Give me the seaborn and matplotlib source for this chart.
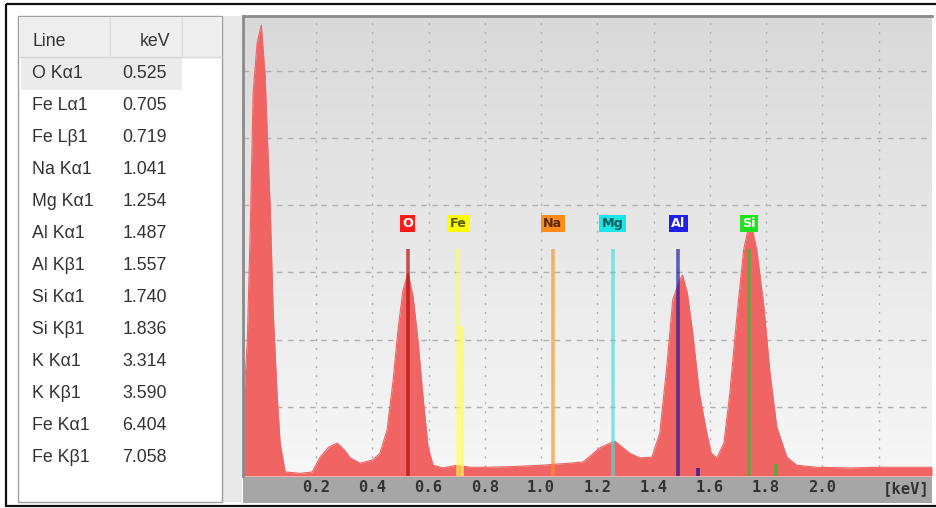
import numpy as np
import matplotlib
matplotlib.use("Agg")
import matplotlib.pyplot as plt
import matplotlib.patches as mpatches
from matplotlib.colors import LinearSegmentedColormap
import seaborn as sns

# table of identified lines
line_names = ["O Kα1", "Fe Lα1", "Fe Lβ1", "Na Kα1", "Mg Kα1", "Al Kα1", "Al Kβ1",
              "Si Kα1", "Si Kβ1", "K Kα1", "K Kβ1", "Fe Kα1", "Fe Kβ1"]
line_kev = ["0.525", "0.705", "0.719", "1.041", "1.254", "1.487", "1.557",
            "1.740", "1.836", "3.314", "3.590", "6.404", "7.058"]

# spectrum (keV, counts)
energy = [-0.058, -0.045, -0.034, -0.024, -0.010, 0.005, 0.019, 0.026, 0.037, 0.047,
          0.061, 0.072, 0.090, 0.143, 0.186, 0.214, 0.245, 0.275, 0.300, 0.321,
          0.356, 0.402, 0.427, 0.452, 0.474, 0.491, 0.509, 0.527, 0.545, 0.562,
          0.580, 0.598, 0.616, 0.651, 0.700, 0.750, 0.800, 0.900, 1.000, 1.100,
          1.150, 1.209, 1.262, 1.315, 1.351, 1.394, 1.422, 1.447, 1.468, 1.493,
          1.503, 1.520, 1.539, 1.563, 1.589, 1.605, 1.625, 1.650, 1.671, 1.696,
          1.720, 1.738, 1.749, 1.767, 1.792, 1.814, 1.838, 1.874, 1.909, 1.980,
          2.100, 2.200, 2.300, 2.390]
counts = [1050, 1950, 3680, 5670, 6410, 6680, 5900, 5070, 3930, 2440,
          1200, 460, 30, 10, 30, 250, 400, 460, 360, 240,
          160, 210, 310, 650, 1400, 2140, 2740, 2990, 2630, 1990,
          1150, 400, 130, 90, 130, 100, 100, 110, 130, 160,
          180, 390, 490, 310, 240, 250, 610, 1600, 2590, 2890,
          2960, 2690, 2100, 1200, 610, 310, 240, 460, 1200, 2340,
          3330, 3680, 3680, 3330, 2490, 1500, 700, 250, 130, 100,
          90, 100, 100, 100]

# element markers
elements = ["O", "Fe", "Na", "Mg", "Al", "Si"]
element_kev = [0.525, 0.705, 1.041, 1.254, 1.487, 1.740]
element_color = ["#b00000", "#ffff50", "#ff9020", "#40e0e0", "#1010a0", "#30c030"]
box_color = ["#ff1a1a", "#ffff00", "#ff8c1a", "#1ae6e6", "#2020e8", "#20e020"]
box_text = ["white", "#5a5a00", "#5a2a00", "#005a5a", "white", "white"]
marker_top = 3350
label_y = 3730
# secondary lines (keV, height, colour index)
extra_kev = [0.719, 1.557, 1.836]
extra_height = [2200, 90, 150]
extra_elem = [1, 4, 5]

xticks = [0.2, 0.4, 0.6, 0.8, 1.0, 1.2, 1.4, 1.6, 1.8, 2.0, 2.2]
xtick_labels = ["0.2", "0.4", "0.6", "0.8", "1.0", "1.2", "1.4", "1.6", "1.8", "2.0", ""]
yticks = [1000, 2000, 3000, 4000, 5000, 6000]

sns.set_style("white")
plt.rcParams["font.family"] = ["Liberation Sans", "DejaVu Sans"]

W, H = 937, 508
fig = plt.figure(figsize=(W / 100, H / 100), dpi=100)
fig.patch.set_facecolor("white")

# background / table panel in pixel coordinates
bg = fig.add_axes([0, 0, 1, 1], zorder=-1)
bg.set_xlim(0, W)
bg.set_ylim(H, 0)
bg.axis("off")
bg.add_patch(mpatches.Rectangle((222, 16), 20, 486, fc="#e9e9e9", ec="none"))
bg.add_patch(mpatches.Rectangle((18, 16), 204, 486, fc="white", ec="#a0a0a0", lw=1))
bg.add_patch(mpatches.Rectangle((19, 17), 203, 40, fc="#eeeeee", ec="none"))
bg.plot([19, 222], [57, 57], color="#d5d5d5", lw=1)
bg.plot([110, 110], [17, 57], color="#dedede", lw=1)
bg.plot([182, 182], [17, 57], color="#dedede", lw=1)
bg.add_patch(mpatches.Rectangle((21, 58), 161, 32, fc="#ebebeb", ec="none"))
tab_font = dict(fontsize=12.8, color="#333333", va="center")
bg.text(32, 41, "Line", ha="left", **tab_font)
bg.text(170, 41, "keV", ha="right", **tab_font)
for i, (nm, kv) in enumerate(zip(line_names, line_kev)):
    y = 74 + 32 * i
    bg.text(32, y, nm, ha="left", **tab_font)
    bg.text(167, y, kv, ha="right", **tab_font)
bg.add_patch(mpatches.Rectangle((243, 477), 689, 26, fc="#a6a6a6", ec="none"))
bg.add_patch(mpatches.Rectangle((6, 4), 940, 502, fill=False, ec="#101010", lw=1.6))

# spectrum axes
ax = fig.add_axes([243 / W, 1 - 476 / H, (932 - 243) / W, (476 - 16) / H], zorder=1)
grad = LinearSegmentedColormap.from_list("bgr", ["#d9d9d9", "#f7f7f7"])
ax.imshow(np.linspace(0, 1, 256).reshape(-1, 1), extent=[0, 1, 0, 1],
          transform=ax.transAxes, cmap=grad, aspect="auto", zorder=0)

ax.fill_between(energy, counts, -30, color="#f06464", lw=0, zorder=2)
sns.lineplot(x=energy, y=counts, ax=ax, color="#f06464", lw=0.8, zorder=2.1)

for el, kv, col, bcol, tcol in zip(elements, element_kev, element_color, box_color, box_text):
    ax.vlines(kv, -30, marker_top, color=col, lw=2.6, alpha=0.65, zorder=3)
    ax.text(kv, label_y, el, ha="center", va="center", fontsize=9.2, fontweight="bold",
            color=tcol, family="DejaVu Sans", zorder=5,
            bbox=dict(boxstyle="square,pad=0.18", fc=bcol, ec="none"))
for kv, h, idx in zip(extra_kev, extra_height, extra_elem):
    ax.vlines(kv, -30, h, color=element_color[idx], lw=2.6, alpha=0.75, zorder=3)

ax.set_xticks(xticks)
ax.set_xticklabels(xtick_labels, family="DejaVu Sans Mono", fontsize=11.2,
                   fontweight="bold", color="#333333")
ax.set_yticks(yticks)
ax.tick_params(axis="x", length=0, pad=3)
ax.tick_params(axis="y", length=0, labelleft=False)
ax.set_axisbelow(True)
ax.grid(axis="x", linestyle=(0, (1.5, 5)), color="#b0b0b0", lw=1)
ax.grid(axis="y", linestyle=(0, (4, 4)), color="#b0b0b0", lw=1)
ax.set_xlim(-0.06, 2.39)
ax.set_ylim(-30, 6815)
ax.set_xlabel("")
ax.set_ylabel("")
for s in ["right", "bottom"]:
    ax.spines[s].set_visible(False)
for s in ["left", "top"]:
    ax.spines[s].set_color("#8a8a8a")
    ax.spines[s].set_linewidth(2)
ax.text(0.997, -0.028, "[keV]", transform=ax.transAxes, ha="right", va="center",
        family="DejaVu Sans Mono", fontsize=11.2, fontweight="bold", color="#333333")

fig.savefig("out.png", dpi=100)
